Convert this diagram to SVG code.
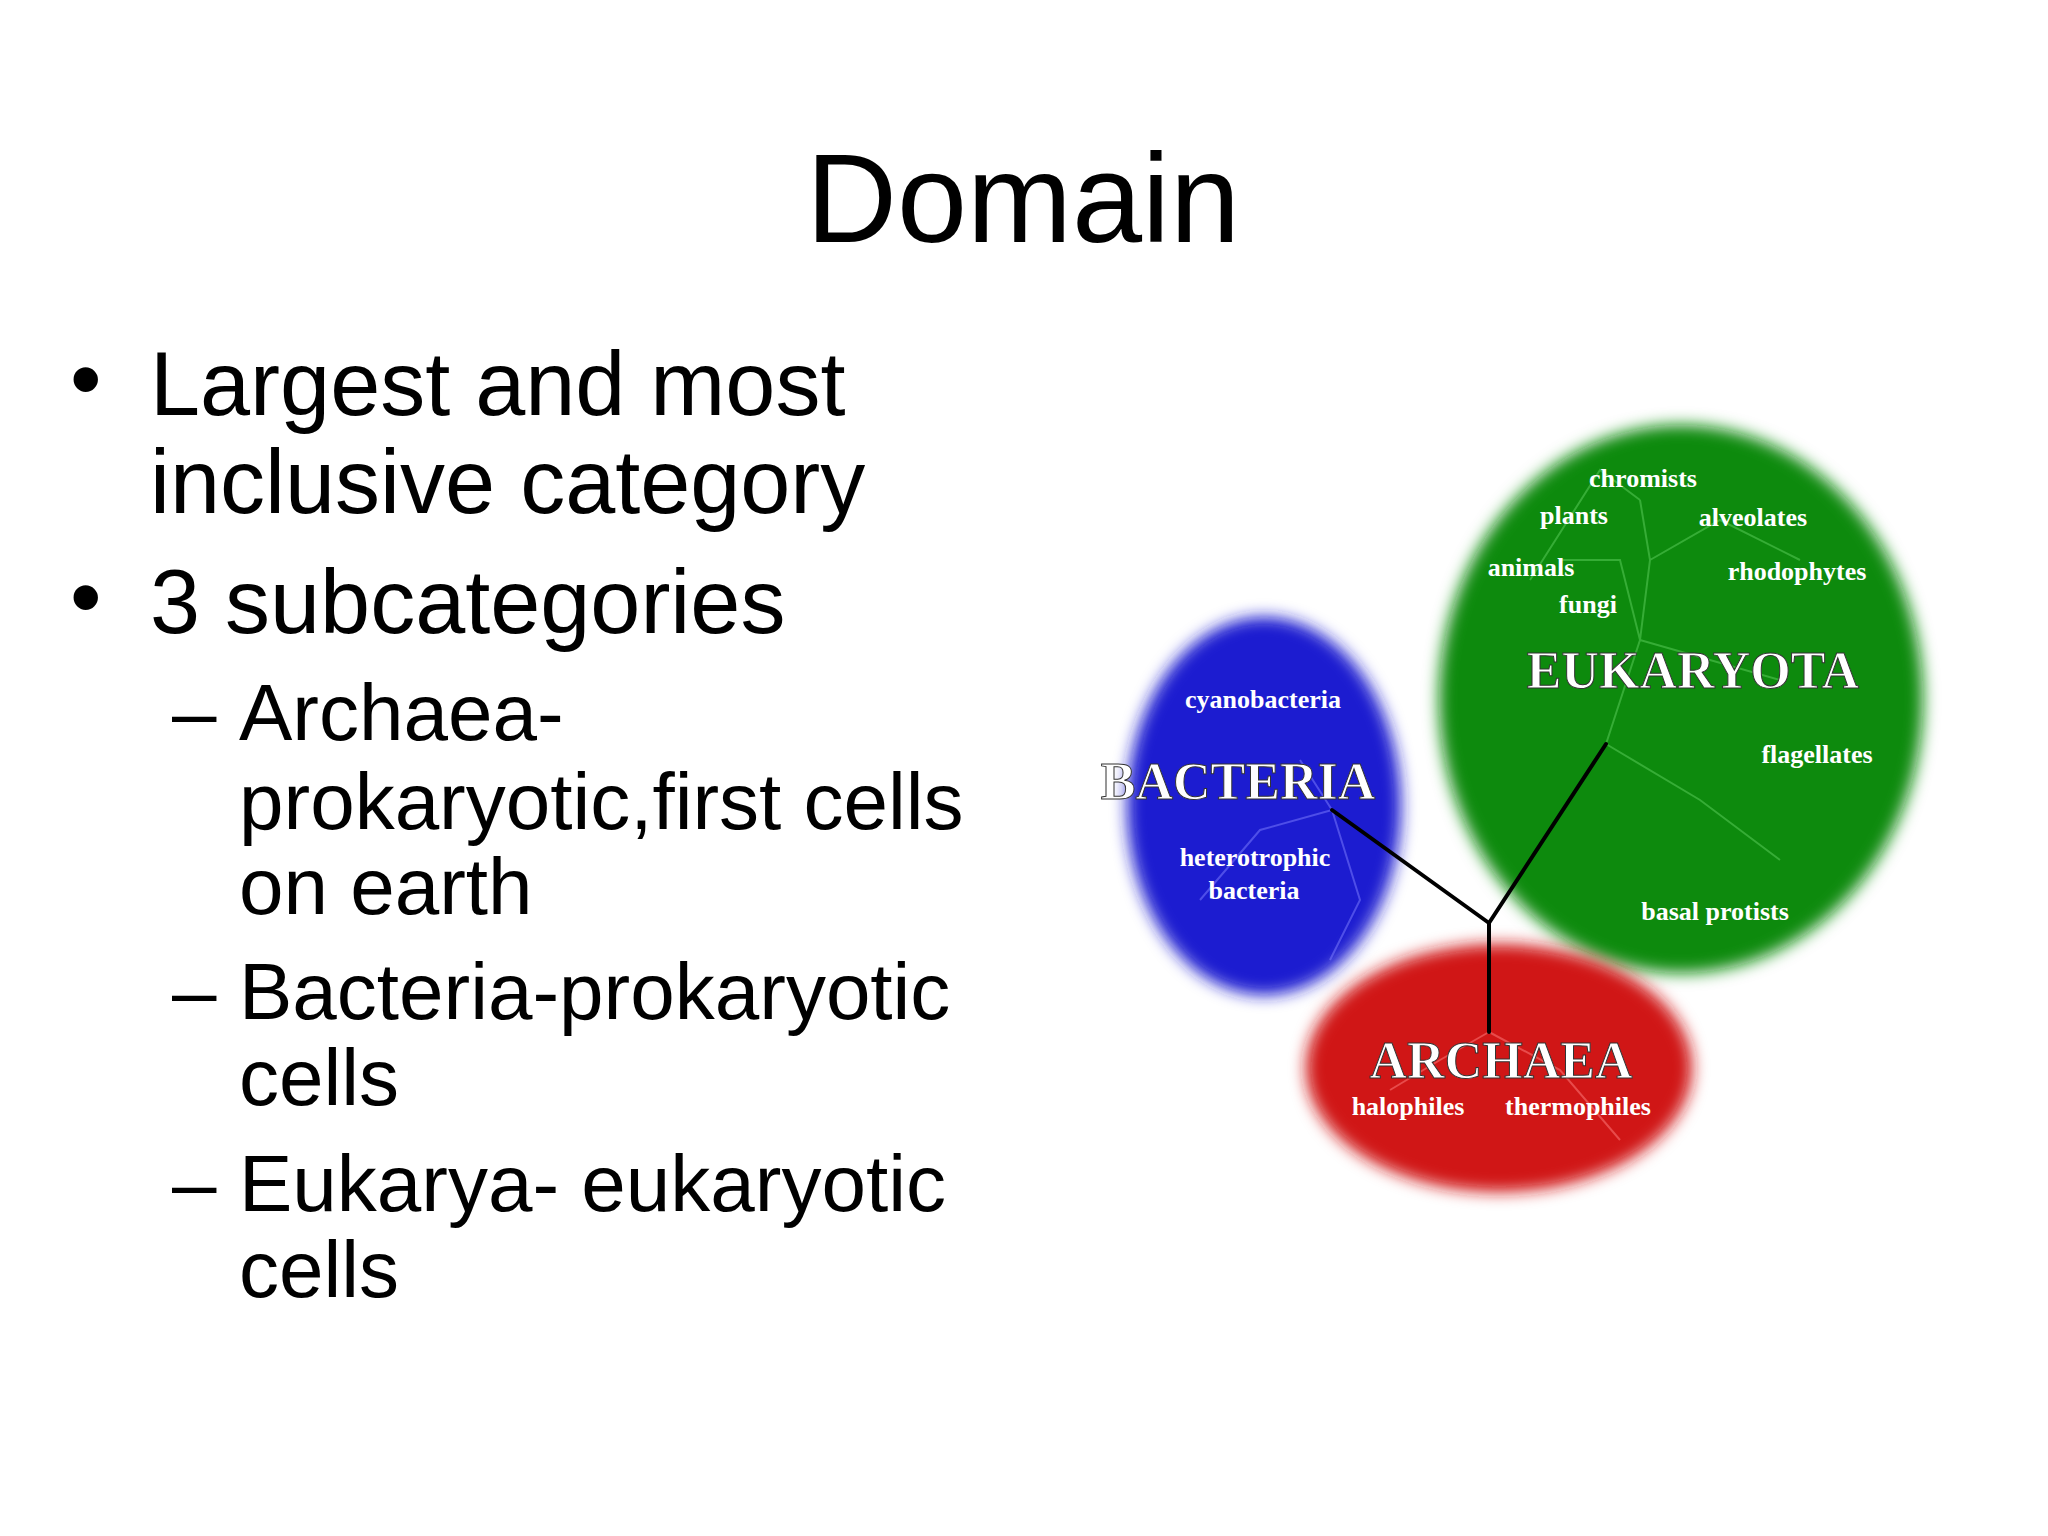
<svg xmlns="http://www.w3.org/2000/svg" width="2048" height="1536" viewBox="0 0 2048 1536">
<style>
.t{font-family:"Liberation Sans",Arial,sans-serif;fill:#000}
.s{font-family:"Liberation Serif","Times New Roman",serif;font-weight:bold;fill:#fff;text-anchor:middle;font-size:26px}
.b{font-family:"Liberation Serif","Times New Roman",serif;font-weight:bold;fill:#fff;text-anchor:middle;font-size:52px;stroke:#333;stroke-width:1}
.br{stroke:#000;stroke-width:4;fill:none;stroke-linecap:round}
.tw{stroke-width:2;fill:none;opacity:0.5}
</style>
<defs>
<filter id="blur" x="-20%" y="-20%" width="140%" height="140%"><feGaussianBlur stdDeviation="8"/></filter>
</defs>
<rect width="2048" height="1536" fill="#fff"/>
<text class="t" x="1023" y="242" font-size="126" text-anchor="middle">Domain</text>
<g class="t" font-size="90">
<text x="70" y="410">•</text><text x="150" y="415">Largest and most</text>
<text x="150" y="513">inclusive category</text>
<text x="70" y="628">•</text><text x="150" y="633">3 subcategories</text>
</g>
<g class="t" font-size="80">
<text x="172" y="740">–</text><text x="239" y="740">Archaea-</text>
<text x="239" y="829">prokaryotic,first cells</text>
<text x="239" y="914">on earth</text>
<text x="172" y="1019">–</text><text x="239" y="1019">Bacteria-prokaryotic</text>
<text x="239" y="1105">cells</text>
<text x="172" y="1211">–</text><text x="239" y="1211">Eukarya- eukaryotic</text>
<text x="239" y="1297">cells</text>
</g>
<g id="eukaryota">
<ellipse cx="1681" cy="699" rx="242" ry="274" fill="#108a10" filter="url(#blur)"/>
<g class="tw" stroke="#5fcf5f">
<path d="M1606 744 L1640 640 L1650 560 L1640 500 M1650 560 L1720 520 L1800 560 M1640 640 L1780 680 M1606 744 L1700 800 L1780 860 M1640 640 L1620 560 L1560 560 M1640 500 L1600 470 L1530 580"/>
</g>
<text class="s" x="1643" y="487">chromists</text>
<text class="s" x="1574" y="524">plants</text>
<text class="s" x="1753" y="526">alveolates</text>
<text class="s" x="1531" y="576">animals</text>
<text class="s" x="1797" y="580">rhodophytes</text>
<text class="s" x="1588" y="613">fungi</text>
<text class="b" x="1693" y="688">EUKARYOTA</text>
<text class="s" x="1817" y="763">flagellates</text>
<text class="s" x="1715" y="920">basal protists</text>
</g>
<g id="bacteria">
<ellipse cx="1264" cy="806" rx="137" ry="189" fill="#1a1ad0" filter="url(#blur)"/>
<g class="tw" stroke="#8080ff"><path d="M1332 810 L1260 830 L1200 900 M1332 810 L1360 900 L1330 960 M1332 810 L1300 760"/></g>
<text class="s" x="1263" y="708">cyanobacteria</text>
<text class="b" x="1238" y="799">BACTERIA</text>
<text class="s" x="1255" y="866">heterotrophic</text>
<text class="s" x="1254" y="899">bacteria</text>
</g>
<g id="archaea">
<ellipse cx="1499" cy="1068" rx="193" ry="124" fill="#d01818" filter="url(#blur)"/>
<g class="tw" stroke="#ff8080"><path d="M1489 1032 L1440 1060 L1390 1090 M1489 1032 L1560 1070 L1620 1140"/></g>
<text class="b" x="1501" y="1078">ARCHAEA</text>
<text class="s" x="1408" y="1115">halophiles</text>
<text class="s" x="1578" y="1115">thermophiles</text>
</g>
<g id="connectors">
<path class="br" d="M1489 923 L1332 810"/>
<path class="br" d="M1489 923 L1606 744"/>
<path class="br" d="M1489 923 L1489 1032"/>
</g>
</svg>
